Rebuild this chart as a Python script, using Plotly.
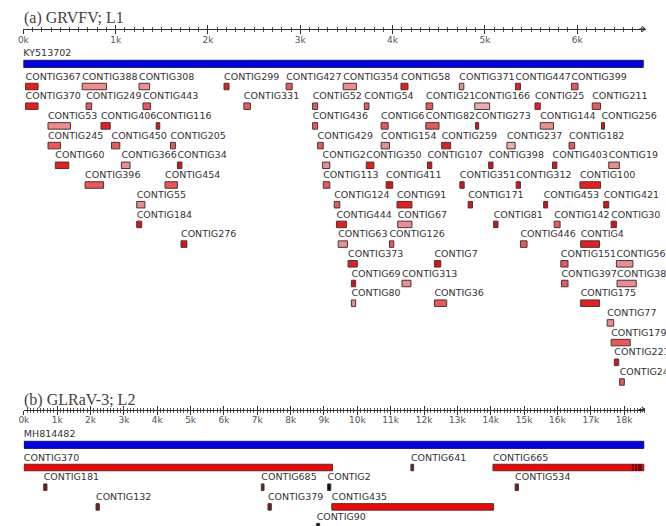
import plotly.graph_objects as go

W, H = 666, 526

# ---------------- Panel (a): GRVFV; L1 ----------------
A_TITLE = "(a) GRVFV; L1"
A_REF_NAME = "KY513702"
A_REF_LEN = 6716
A_TICK_VALS = [0, 1000, 2000, 3000, 4000, 5000, 6000]
A_TICK_TEXT = ["0k", "1k", "2k", "3k", "4k", "5k", "6k"]

A_NAMES = [
    # row 1
    "CONTIG367", "CONTIG388", "CONTIG308", "CONTIG299", "CONTIG427", "CONTIG354", "CONTIG58", "CONTIG371", "CONTIG447", "CONTIG399",
    # row 2
    "CONTIG370", "CONTIG249", "CONTIG443", "CONTIG331", "CONTIG52", "CONTIG54", "CONTIG21", "CONTIG166", "CONTIG25", "CONTIG211",
    # row 3
    "CONTIG53", "CONTIG406", "CONTIG116", "CONTIG436", "CONTIG6", "CONTIG82", "CONTIG273", "CONTIG144", "CONTIG256",
    # row 4
    "CONTIG245", "CONTIG450", "CONTIG205", "CONTIG429", "CONTIG154", "CONTIG259", "CONTIG237", "CONTIG182",
    # row 5
    "CONTIG60", "CONTIG366", "CONTIG34", "CONTIG2", "CONTIG350", "CONTIG107", "CONTIG398", "CONTIG403", "CONTIG19",
    # row 6
    "CONTIG396", "CONTIG454", "CONTIG113", "CONTIG411", "CONTIG351", "CONTIG312", "CONTIG100",
    # row 7
    "CONTIG55", "CONTIG124", "CONTIG91", "CONTIG171", "CONTIG453", "CONTIG421",
    # row 8
    "CONTIG184", "CONTIG444", "CONTIG67", "CONTIG81", "CONTIG142", "CONTIG30",
    # row 9
    "CONTIG276", "CONTIG63", "CONTIG126", "CONTIG446", "CONTIG4",
    # row 10
    "CONTIG373", "CONTIG7", "CONTIG151", "CONTIG56",
    # row 11
    "CONTIG69", "CONTIG313", "CONTIG397", "CONTIG385",
    # row 12
    "CONTIG80", "CONTIG36", "CONTIG175",
    # rows 13-16
    "CONTIG77", "CONTIG179", "CONTIG221", "CONTIG243",
]
A_ROWS = (
    [1] * 10 + [2] * 10 + [3] * 9 + [4] * 8 + [5] * 9 + [6] * 7 + [7] * 6 + [8] * 6
    + [9] * 5 + [10] * 4 + [11] * 4 + [12] * 3 + [13, 14, 15, 16]
)
A_START = [
    24, 637, 1253, 2174, 2847, 3465, 4091, 4723, 5331, 5938,
    24, 680, 1296, 2389, 3134, 3694, 4363, 4890, 5543, 6163,
    267, 841, 1439, 3134, 3876, 4360, 4898, 5600, 6263,
    267, 955, 1594, 3188, 3876, 4532, 5239, 5912,
    346, 1062, 1669, 3242, 3715, 4378, 5041, 5733, 6342,
    669, 1535, 3249, 3930, 4729, 5339, 6030,
    1228, 3368, 4048, 4819, 5637, 6288,
    1228, 3392, 4056, 5095, 5751, 6368,
    1708, 3411, 3966, 5385, 6038,
    3518, 4454, 5823, 6425,
    3554, 4102, 5830, 6432,
    3554, 4454, 6038,
    6325, 6368, 6403, 6460,
]
A_END = [
    159, 901, 1368, 2228, 2912, 3608, 4167, 4772, 5385, 6009,
    159, 740, 1378, 2460, 3188, 3744, 4435, 5052, 5600, 6253,
    511, 941, 1478, 3188, 3952, 4503, 4933, 5744, 6296,
    403, 1045, 1647, 3249, 3966, 4629, 5328, 5973,
    492, 1156, 1718, 3320, 3798, 4425, 5088, 5780, 6457,
    869, 1669, 3320, 4002, 4776, 5385, 6253,
    1317, 3428, 4210, 4866, 5680, 6342,
    1282, 3500, 4210, 5142, 5815, 6425,
    1772, 3511, 4013, 5457, 6242,
    3618, 4522, 5901, 6604,
    3600, 4199, 5901, 6640,
    3600, 4586, 6242,
    6396, 6575, 6450, 6511,
]
A_SHADE = [
    "R", "L", "L", "R", "M", "L", "R", "L", "R", "M",
    "R", "M", "M", "M", "M", "M", "M", "P", "R", "M",
    "L", "R", "D", "M", "M", "M", "D", "L", "D",
    "M", "M", "M", "M", "L", "R", "P", "M",
    "R", "L", "D", "L", "R", "D", "D", "D", "L",
    "M", "M", "M", "D", "D", "D", "R",
    "L", "M", "R", "D", "D", "D",
    "D", "R", "L", "D", "M", "D",
    "D", "L", "M", "M", "R",
    "R", "D", "M", "L",
    "D", "L", "M", "L",
    "L", "M", "R",
    "L", "M", "D", "M",
]

# ---------------- Panel (b): GLRaV-3; L2 ----------------
B_TITLE = "(b) GLRaV-3; L2"
B_REF_NAME = "MH814482"
B_REF_LEN = 18590
B_TICK_VALS = [k * 1000 for k in range(19)]
B_TICK_TEXT = [f"{k}k" for k in range(19)]

B_NAMES = ["CONTIG370", "CONTIG641", "CONTIG665",
           "CONTIG181", "CONTIG685", "CONTIG2", "CONTIG534",
           "CONTIG132", "CONTIG379", "CONTIG435",
           "CONTIG90"]
B_ROWS = [1, 1, 1, 2, 2, 2, 2, 3, 3, 3, 4]
B_START = [0, 11607, 14068, 595, 7122, 9107, 14732, 2164, 7321, 9235, 8780]
B_END = [9256, 11687, 18590, 693, 7202, 9205, 14830, 2262, 7420, 14086, 8870]
B_SHADE = ["B", "K", "B", "K", "K", "X", "K", "K", "K", "B", "X"]
# dark variant marks near the 3' end of CONTIG665
B_MARK_ROW = [1, 1, 1, 1]
B_MARK_POS = [18253, 18333, 18414, 18494]

SHADE_COLORS = {
    "P": "#f7aaaa",
    "L": "#f38b8b",
    "M": "#f05656",
    "R": "#ec1c1c",
    "D": "#e01010",
    "B": "#ff0000",
    "K": "#8e1212",
    "X": "#111111",
}

# ---------------- layout constants ----------------
REF_TRACK = -0.15          # reference track sits slightly above row grid
LABEL_OFF = -0.47          # label sits above its box (row units)
BOX_H = 0.33
REF_H = 0.36
LABEL_FONT = dict(family="DejaVu Sans", size=9.5, color="#333333")
TICK_FONT = dict(family="DejaVu Sans", size=9, color="#555555")
TITLE_FONT = dict(family="Liberation Serif", size=16, color="#4a4038")
EDGE = "#3a3a3a"


def add_panel(fig, xa, ya, ref_name, ref_len, names, rows, starts, ends, shades):
    # reference bar
    fig.add_trace(go.Bar(
        orientation="h", base=[0], x=[ref_len], y=[REF_TRACK], width=REF_H,
        marker=dict(color="#0000ee", line=dict(color="#1a1a50", width=1)),
        xaxis=xa, yaxis=ya, showlegend=False, hoverinfo="skip"))
    fig.add_trace(go.Scatter(
        x=[0], y=[REF_TRACK + LABEL_OFF - 0.05], text=[ref_name], mode="text",
        textposition="middle right", textfont=LABEL_FONT, cliponaxis=False,
        xaxis=xa, yaxis=ya, showlegend=False, hoverinfo="skip"))
    # contig boxes
    fig.add_trace(go.Bar(
        orientation="h", base=starts, x=[e - s for s, e in zip(starts, ends)], y=rows,
        width=BOX_H,
        marker=dict(color=[SHADE_COLORS[s] for s in shades], line=dict(color=EDGE, width=1)),
        xaxis=xa, yaxis=ya, showlegend=False, hovertext=names, hoverinfo="text"))
    fig.add_trace(go.Scatter(
        x=starts, y=[r + LABEL_OFF for r in rows], text=names, mode="text",
        textposition="middle right", textfont=LABEL_FONT, cliponaxis=False,
        xaxis=xa, yaxis=ya, showlegend=False, hoverinfo="skip"))


fig = go.Figure()
add_panel(fig, "x", "y", A_REF_NAME, A_REF_LEN, A_NAMES, A_ROWS, A_START, A_END, A_SHADE)
add_panel(fig, "x2", "y2", B_REF_NAME, B_REF_LEN, B_NAMES, B_ROWS, B_START, B_END, B_SHADE)
fig.add_trace(go.Bar(
    orientation="h", base=B_MARK_POS, x=[35] * len(B_MARK_POS), y=B_MARK_ROW, width=BOX_H,
    marker=dict(color="#7a0000", line=dict(width=0)),
    xaxis="x2", yaxis="y2", showlegend=False, hoverinfo="skip"))

# pixel-calibrated geometry
A_X0, A_X1 = 18.5, 645.5
A_KPX = 93.0
B_X0, B_X1 = 19.0, 645.0
B_KPX = 33.6
A_AXIS_Y, B_AXIS_Y = 29, 409.5
A_ROW1_Y, B_ROW1_Y, ROW_PX = 86.5, 467.5, 19.7

a_range = [0, (A_X1 - A_X0) / A_KPX * 1000]
b_range = [0, (B_X1 - B_X0) / B_KPX * 1000]


def xaxis_main(domain, rng, pos, tv, tt):
    return dict(domain=domain, range=rng, anchor="free", position=pos, side="bottom",
                showline=True, linecolor="#333333", linewidth=1,
                ticks="outside", ticklen=4, tickcolor="#333333", tickwidth=1,
                tickmode="array", tickvals=tv, ticktext=tt, tickfont=TICK_FONT,
                ticklabelstandoff=-2,
                minor=dict(tickmode="linear", tick0=0, dtick=100, ticks="outside",
                           ticklen=2, tickcolor="#555555"),
                showgrid=False, zeroline=False, fixedrange=True)


def xaxis_over(over, rng, pos, tv):
    return dict(overlaying=over, range=rng, anchor="free", position=pos, side="bottom",
                showline=False, ticks="inside", ticklen=4, tickcolor="#333333", tickwidth=1,
                tickmode="array", tickvals=tv, showticklabels=False,
                minor=dict(tickmode="linear", tick0=0, dtick=100, ticks="inside",
                           ticklen=2, tickcolor="#555555"),
                showgrid=False, zeroline=False, fixedrange=True)


a_pos = 1 - A_AXIS_Y / H
b_pos = 1 - B_AXIS_Y / H

fig.update_layout(
    width=W, height=H, margin=dict(l=0, r=0, t=0, b=0),
    paper_bgcolor="white", plot_bgcolor="rgba(0,0,0,0)",
    barmode="overlay", showlegend=False,
    xaxis=xaxis_main([A_X0 / W, A_X1 / W], a_range, a_pos, A_TICK_VALS, A_TICK_TEXT),
    xaxis3=xaxis_over("x", a_range, a_pos, A_TICK_VALS),
    xaxis2=xaxis_main([B_X0 / W, B_X1 / W], b_range, b_pos, B_TICK_VALS, B_TICK_TEXT),
    xaxis4=xaxis_over("x2", b_range, b_pos, B_TICK_VALS),
    yaxis=dict(domain=[0, 1], range=[1 + (H - A_ROW1_Y) / ROW_PX, 1 - A_ROW1_Y / ROW_PX],
               visible=False, fixedrange=True, anchor="x"),
    yaxis2=dict(domain=[0, 1], range=[1 + (H - B_ROW1_Y) / ROW_PX, 1 - B_ROW1_Y / ROW_PX],
                visible=False, fixedrange=True, anchor="x2"),
    annotations=[
        dict(text=A_TITLE, xref="paper", yref="paper", x=17 / W, y=1 - 18 / H,
             xanchor="left", yanchor="middle", showarrow=False, font=TITLE_FONT),
        dict(text=B_TITLE, xref="paper", yref="paper", x=17 / W, y=1 - 399.5 / H,
             xanchor="left", yanchor="middle", showarrow=False, font=TITLE_FONT),
        dict(text="", xref="x", yref="paper", x=a_range[1], y=a_pos, ax=-8, ay=0,
             showarrow=True, arrowhead=4, arrowsize=1, arrowwidth=1, arrowcolor="#333333"),
        dict(text="", xref="x2", yref="paper", x=b_range[1], y=b_pos, ax=-8, ay=0,
             showarrow=True, arrowhead=4, arrowsize=1, arrowwidth=1, arrowcolor="#333333"),
    ],
)

# dummy traces so overlay axes render
fig.add_trace(go.Scatter(x=[None], y=[None], xaxis="x3", yaxis="y", showlegend=False))
fig.add_trace(go.Scatter(x=[None], y=[None], xaxis="x4", yaxis="y2", showlegend=False))

fig.write_html("out.html", config={"displayModeBar": False},
               post_script="document.body.style.margin='0';document.body.style.padding='0';")
